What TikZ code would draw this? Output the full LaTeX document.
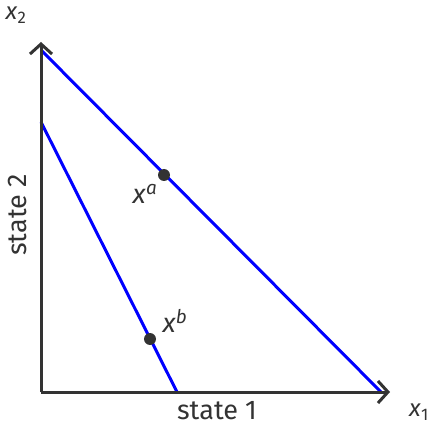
\documentclass[tikz,border=0pt]{standalone}
\usepackage{fontspec}
\setmainfont{Fira Sans}
\usetikzlibrary{arrows.meta}
\definecolor{ink}{HTML}{333333}
\begin{document}
\begin{tikzpicture}[x=1pt,y=-1pt,
  axis/.style={draw=ink,line width=3pt,-{Straight Barb[length=10pt,width=22pt,line width=3pt]}},
  budget/.style={draw=blue,line width=3pt},
  dotpt/.style={circle,fill=ink,inner sep=0pt,minimum size=12pt},
  lbl/.style={text=ink,font=\fontsize{27}{32}\selectfont,inner sep=0pt},
  smlbl/.style={text=ink,font=\fontsize{24}{28}\selectfont,inner sep=0pt}]
\useasboundingbox (0,0) rectangle (432,428);
\coordinate (o) at (41,392);
\coordinate (ytop) at (41,42);
\coordinate (xend) at (390,392);
\coordinate (a1) at (41,50);
\coordinate (a2) at (381,392);
\coordinate (b1) at (41,122);
\coordinate (b2) at (177,392);
\draw[budget] (a1) -- (a2);
\draw[budget] (b1) -- (b2);
\draw[axis] (o) -- (ytop);
\draw[axis] (o) -- (xend);
\node[dotpt] (xa) at (164,175) {};
\node[dotpt] (xb) at (150,339) {};
\node[lbl] (la) at (145,194) {\textit{x}\textsuperscript{\textit{a}}};
\node[lbl] (lb) at (175,321) {\textit{x}\textsuperscript{\textit{b}}};
\node[smlbl] (l2) at (16,15) {\textit{x}\textsubscript{2}};
\node[smlbl] (l1) at (419,412) {\textit{x}\textsubscript{1}};
\node[lbl,rotate=90] (s2) at (17,215) {state 2};
\node[lbl] (s1) at (217,411) {state 1};
\end{tikzpicture}
\end{document}
